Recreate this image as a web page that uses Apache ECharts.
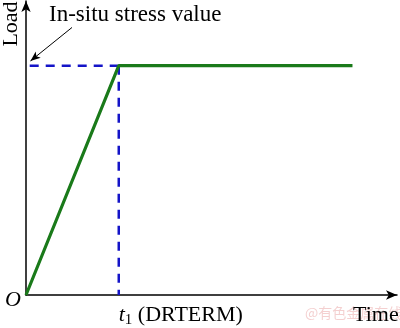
<!DOCTYPE html>
<html><head><meta charset="utf-8">
<script src="https://cdn.jsdelivr.net/npm/echarts@6/dist/echarts.min.js"></script>
<style>html,body{margin:0;padding:0;background:#fff}#c{width:400px;height:328px}</style>
</head><body><div id="c"></div>
<script>
// Data (abstract units: time 0..100, load 0..100)
const loadTimes = [0, 25, 88];
const loadValues = [0, 78, 78];
const t1 = 25;
const insituLoad = 78;
const dashStartTime = 1;
const annotationText = 'In-situ stress value';
const annStart = [12.4, 91];
const annEnd = [1.2, 79.6];

const serif = '"Liberation Serif","Times New Roman",serif';
const chart = echarts.init(document.getElementById('c'), null, {renderer:'canvas'});
chart.setOption({
  animation:false,
  grid:{left:26, right:3, top:1, bottom:31},
  xAxis:{type:'value', min:0, max:100,
    axisLine:{show:true, symbol:['none','arrow'], symbolSize:[7,11], lineStyle:{color:'#000', width:1.5}},
    axisTick:{show:false}, splitLine:{show:false},
    axisLabel:{show:true, customValues:[t1], margin:7, align:'left', color:'#000', fontFamily:serif, fontSize:22,
      formatter:()=>'{i|t}{s|1} (DRTERM)',
      rich:{i:{fontStyle:'italic', fontFamily:serif, fontSize:22, color:'#000'}, s:{fontFamily:serif, fontSize:15, color:'#000', verticalAlign:'bottom', padding:[11,0,0,0]}}}
  },
  yAxis:{type:'value', min:0, max:100,
    axisLine:{show:true, symbol:['none','arrow'], symbolSize:[7,11], lineStyle:{color:'#000', width:1.5}},
    axisTick:{show:false}, splitLine:{show:false}, axisLabel:{show:false}
  },
  series:[
    {type:'line', data:[[dashStartTime, insituLoad],[t1, insituLoad]], symbol:'none', z:1,
      lineStyle:{color:'#1414c8', width:2.5, type:[9,7]}},
    {type:'line', data:[[t1, insituLoad],[t1, 0]], symbol:'none', z:1,
      lineStyle:{color:'#1414c8', width:2.5, type:[9,7]}},
    {type:'line', data:loadTimes.map((t,i)=>[t, loadValues[i]]), symbol:'none', z:3,
      lineStyle:{color:'#1a7a1a', width:3.2},
      markLine:{silent:true, symbol:['none','arrow'], symbolSize:[6,10], label:{show:false},
        lineStyle:{color:'#000', width:1, type:'solid'},
        data:[[{coord:annStart},{coord:annEnd}]]}}
  ],
  graphic:[
    {type:'text', left:49, top:3, style:{text:annotationText, font:'23px '+serif, fill:'#000'}},
    {type:'text', x:11, y:24, rotation:Math.PI/2, style:{text:'Load', font:'22px '+serif, fill:'#000', align:'center', verticalAlign:'middle'}},
    {type:'text', left:5, top:289, style:{text:'O', font:'italic 22px '+serif, fill:'#000'}},
    {type:'text', left:353, top:304, style:{text:'Time', font:'22px '+serif, fill:'#000'}},
    {type:'text', left:305, top:306, z:-1, style:{text:'@有色金属在线', font:'14px "Noto Sans CJK SC"', fill:'rgba(230,150,150,0.45)'}}
  ]
});
</script></body></html>
